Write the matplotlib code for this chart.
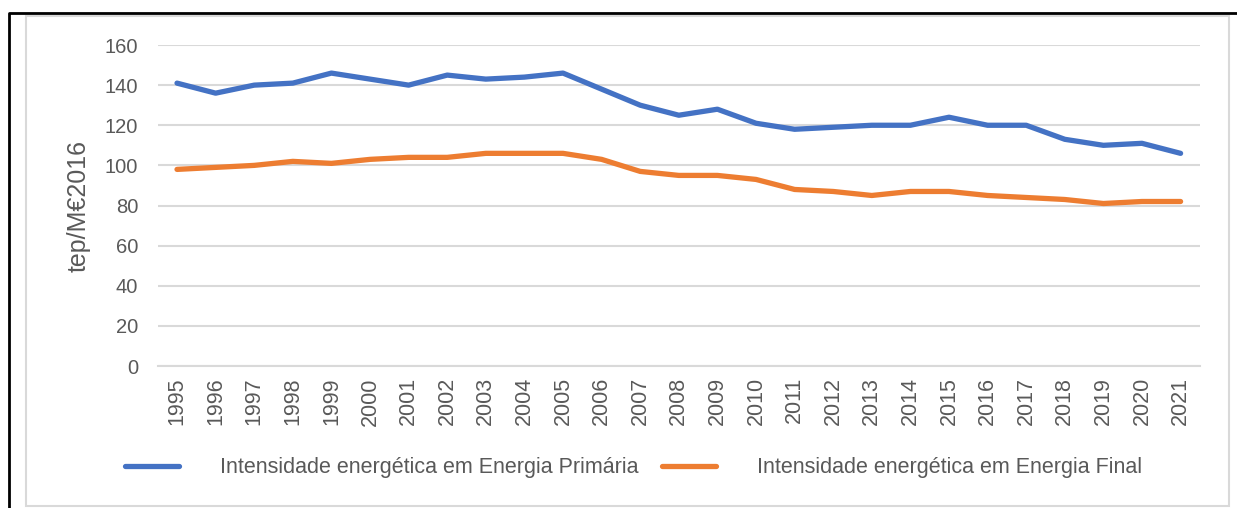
"""Intensidade energética em Portugal, 1995-2021."""

import matplotlib
matplotlib.use("Agg")
import matplotlib.pyplot as plt
from matplotlib.patches import Rectangle

years = [str(y) for y in range(1995, 2022)]
primaria = [141, 136, 140, 141, 146, 143, 140, 145, 143, 144, 146, 138, 130, 125,
            128, 121, 118, 119, 120, 120, 124, 120, 120, 113, 110, 111, 106]
final = [98, 99, 100, 102, 101, 103, 104, 104, 106, 106, 106, 103, 97, 95,
         95, 93, 88, 87, 85, 87, 87, 85, 84, 83, 81, 82, 82]
yticks = [0, 20, 40, 60, 80, 100, 120, 140, 160]

TEXT = "#595959"
GRID = "#d9d9d9"

plt.rcParams["font.family"] = ["Liberation Sans", "DejaVu Sans"]

fig = plt.figure(figsize=(12.37, 5.08), dpi=100)
ax = fig.add_axes([0.1275, 0.2795, 0.8425, 0.6319])

x = range(len(years))
ax.plot(x, primaria, color="#4472c4", lw=3.8, solid_capstyle="round",
        label="Intensidade energética em Energia Primária")
ax.plot(x, final, color="#ed7d31", lw=3.8, solid_capstyle="round",
        label="Intensidade energética em Energia Final")

ax.set_xlim(-0.5, len(years) - 0.5)
ax.set_ylim(0, 160)
ax.set_yticks(yticks)
ax.set_xticks(list(x))
ax.set_xticklabels(years, rotation=90)
ax.tick_params(axis="both", length=0, colors=TEXT)
ax.tick_params(axis="y", labelsize=14.5, pad=14)
ax.tick_params(axis="x", labelsize=15.5, pad=8)
ax.grid(axis="y", color=GRID, lw=1.5)
ax.set_axisbelow(True)
for side in ["top", "right", "left"]:
    ax.spines[side].set_visible(False)
ax.spines["bottom"].set_color(GRID)
ax.spines["bottom"].set_linewidth(1.5)
ax.set_ylabel("tep/M€2016", fontsize=18, color=TEXT, labelpad=10)

fig.legend(loc="center", bbox_to_anchor=(0.512, 0.079), ncol=2, frameon=False,
           fontsize=15.5, labelcolor=TEXT, handlelength=2.5, handletextpad=1.9,
           columnspacing=1.1)

# chart area frame and outer border
fig.patches.append(Rectangle((26 / 1237, 2 / 508), 1203 / 1237, 490 / 508,
                             transform=fig.transFigure, fill=False,
                             ec=GRID, lw=1.5))
fig.lines.append(plt.Line2D([9 / 1237, 9 / 1237, 1.0], [0, 1 - 13 / 508, 1 - 13 / 508],
                            transform=fig.transFigure, color="black", lw=2))

fig.savefig("out.png", dpi=100)
